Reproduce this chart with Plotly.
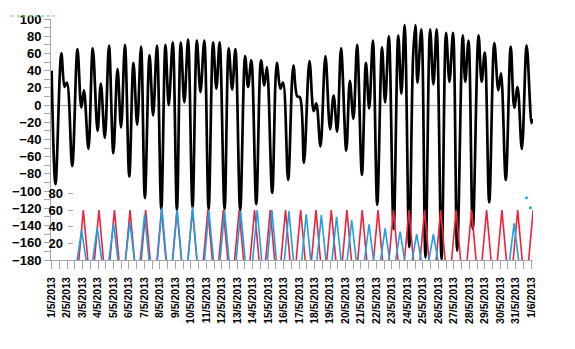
import pandas as pd
import plotly.graph_objects as go

START = pd.Timestamp("2013-05-01 00:00")

# Tide level turning points (day offset from 1 May 2013 00:00, level)
tide_day = [
    0.00, 0.25, 0.63, 0.84, 0.99, 1.33, 1.67, 1.92, 2.09, 2.38,
    2.66, 2.97, 3.18, 3.44, 3.71, 3.99, 4.26, 4.49, 4.74, 5.02,
    5.29, 5.53, 5.78, 6.03, 6.33, 6.56, 6.81, 7.09, 7.36, 7.57,
    7.83, 8.10, 8.35, 8.58, 8.82, 9.11, 9.39, 9.62, 9.87, 10.15,
    10.44, 10.65, 10.86, 11.18, 11.45, 11.67, 11.88, 12.19, 12.51, 12.70,
    12.91, 13.23, 13.54, 13.75, 13.92, 14.26, 14.56, 14.79, 14.96, 15.29,
    15.63, 15.88, 16.05, 16.31, 16.67, 16.94, 17.11, 17.38, 17.70, 18.00,
    18.23, 18.46, 18.71, 19.05, 19.28, 19.51, 19.75, 20.06, 20.32, 20.53,
    20.77, 21.05, 21.36, 21.56, 21.80, 22.11, 22.41, 22.61, 22.82, 23.12,
    23.37, 23.52, 23.65, 23.90, 24.17, 24.47, 24.68, 24.89, 25.21, 25.50,
    25.72, 25.95, 26.22, 26.58, 26.74, 26.95, 27.23, 27.60, 27.80, 28.00,
    28.29, 28.62, 28.88, 29.05, 29.36, 29.68, 29.91, 30.12, 30.40, 30.71,
    31.02, 31.08,
]
tide_level = [
    40, -92, 60, 21, 26, -71, 65, -3, 17, -51,
    66, -30, 25, -38, 69, -56, 42, -26, 70, -83,
    49, -23, 68, -108, 58, -12, 69, -121, 70, 0,
    73, -122, 73, 3, 76, -119, 75, 15, 75, -121,
    73, 19, 73, -121, 66, 18, 65, -122, 57, 21,
    52, -115, 52, 23, 44, -102, 49, 19, 26, -87,
    46, 10, 9, -67, 51, -7, 2, -48, 57, -28,
    11, -31, 66, -53, 28, -16, 70, -81, 49, -4,
    75, -116, 67, 3, 80, -144, 81, 13, 93, -165,
    57, 93, 26, 88, -177, 88, 24, 88, -179, 84,
    27, 84, -169, 81, 27, 75, -144, 81, 27, 61,
    -113, 72, 17, 37, -87, 68, -3, 21, -51, 69,
    -21, -16,
]

# Red daily pulses (peak day offset, peak height)
red_day = [
    2.05, 3.06, 4.06, 5.07, 6.08, 7.10, 8.10, 9.10, 10.10, 11.10,
    12.12, 13.12, 14.13, 15.12, 16.10, 17.09, 18.08, 19.09, 20.08, 21.10,
    22.10, 23.10, 24.11, 25.15, 26.15, 27.15, 28.12, 29.11, 30.13, 31.13,
]
red_value = [
    60, 60, 60, 60, 60, 60, 60, 60, 60, 60,
    60, 60, 60, 60, 60, 60, 60, 60, 60, 60,
    60, 60, 60, 60, 60, 60, 60, 60, 60, 60,
]

# Blue pulses (peak day offset, peak height)
blue_day = [
    1.94, 2.95, 4.00, 5.06, 6.01, 7.13, 8.12, 9.11, 10.17, 11.18,
    12.22, 13.29, 14.24, 15.34, 16.46, 17.44, 18.42, 19.40, 20.52, 21.56,
    22.53, 23.60, 24.68, 29.90,
]
blue_value = [
    36, 39, 44, 46, 55, 63, 60, 64, 59, 59,
    59, 60, 60, 59, 55, 54, 52, 48, 43, 38,
    34, 31, 31, 44,
]
# Isolated blue readings
blue_dot_day = [30.70, 30.95]
blue_dot_value = [75, 63]

PULSE_HALF = 0.29  # half-width of each pulse, in days


def to_time(days):
    return [START + pd.Timedelta(days=d) for d in days]


def pulses(days, values, half):
    xs, ys = [], []
    for d, v in zip(days, values):
        xs += [d - half, d, d + half, None]
        ys += [0, v, 0, None]
    xt = [START + pd.Timedelta(days=d) if d is not None else None for d in xs]
    return xt, ys


fig = go.Figure()

fig.add_trace(go.Scatter(
    x=to_time(tide_day), y=tide_level, mode="lines",
    line=dict(color="black", width=2.7, shape="spline", smoothing=1.0),
    yaxis="y", hoverinfo="skip",
))

rx, ry = pulses(red_day, red_value, PULSE_HALF)
fig.add_trace(go.Scatter(
    x=rx, y=ry, mode="lines", connectgaps=False,
    line=dict(color="#f2213a", width=1.6), yaxis="y2", hoverinfo="skip",
))

bx, by = pulses(blue_day, blue_value, PULSE_HALF)
fig.add_trace(go.Scatter(
    x=bx, y=by, mode="lines", connectgaps=False,
    line=dict(color="#1ba1e6", width=1.6), yaxis="y2", hoverinfo="skip",
))
fig.add_trace(go.Scatter(
    x=to_time(blue_dot_day), y=blue_dot_value, mode="markers",
    marker=dict(color="#1ba1e6", size=3), yaxis="y2", hoverinfo="skip",
))

AX = "#a6a6a6"
label_font = dict(family="Liberation Sans, Arial, sans-serif", size=13,
                  color="black", weight="bold")

fig.update_layout(
    width=575, height=349,
    margin=dict(l=41, r=42, t=16, b=89),
    paper_bgcolor="white", plot_bgcolor="white",
    showlegend=False,
    xaxis=dict(
        type="date",
        range=[START + pd.Timedelta(days=-0.04), START + pd.Timedelta(days=31.12)],
        dtick=86400000, tick0="2013-05-01",
        tickformat="%-d/%-m/%Y", tickangle=-90,
        tickfont=dict(family="Liberation Sans, Arial, sans-serif", size=10.5,
                      color="black", weight="bold"),
        ticks="outside", ticklen=8, tickcolor=AX,
        ticklabelstandoff=4,
        minor=dict(dtick=43200000, ticks="outside", ticklen=8, tickcolor=AX),
        showline=True, linecolor=AX, linewidth=1,
        showgrid=False, zeroline=False,
    ),
    yaxis=dict(
        range=[-180, 100], dtick=20, tick0=0,
        tickfont=label_font,
        ticks="outside", ticklen=6, tickcolor=AX,
        minor=dict(dtick=10, ticks="outside", ticklen=6, tickcolor=AX),
        showline=True, linecolor=AX, linewidth=1,
        showgrid=False,
        zeroline=True, zerolinecolor=AX, zerolinewidth=1,
    ),
    yaxis2=dict(
        overlaying="y", anchor="free", side="left", position=0.0447,
        range=[0, 290], tickvals=[20, 40, 60, 80],
        tickfont=label_font,
        ticks="outside", ticklen=5, tickcolor=AX,
        ticklabelstandoff=2,
        showline=False, showgrid=False, zeroline=False,
    ),
    yaxis3=dict(
        overlaying="y", anchor="x", side="right",
        range=[0, 290], tickvals=[20, 40],
        showticklabels=False, ticks="",
        showgrid=True, gridcolor="#d4d4d4", griddash="3px,12.8px",
        showline=False, zeroline=False,
    ),
    shapes=[dict(
        type="line", xref="paper", yref="paper",
        x0=-0.083, x1=0.008, y0=1.012, y1=1.012,
        line=dict(color="#8ee27a", width=1.5, dash="dot"),
    )],
)

fig.write_html("out.html")
